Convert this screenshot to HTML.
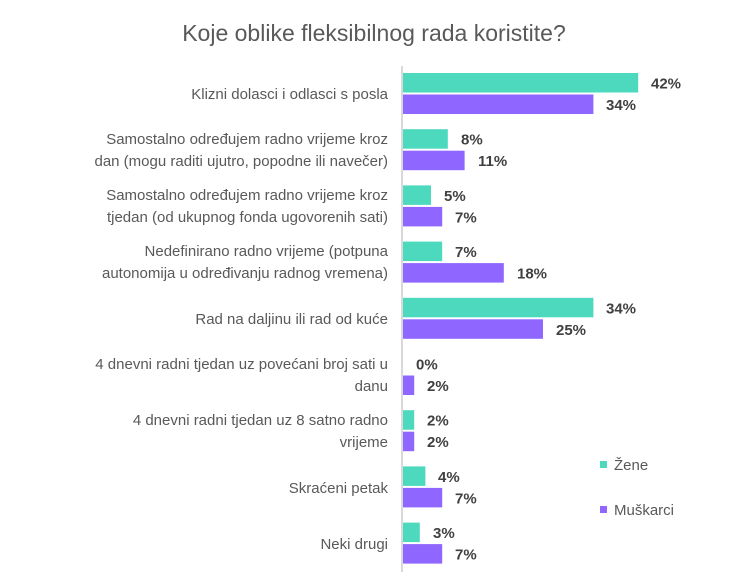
<!DOCTYPE html>
<html><head><meta charset="utf-8"><style>
body{margin:0;background:#fff;}
svg text{font-family:"Liberation Sans",sans-serif;}
</style></head><body>
<svg width="749" height="579" xmlns="http://www.w3.org/2000/svg">
<rect width="749" height="579" fill="#fff"/>
<text x="374" y="41" text-anchor="middle" font-size="23" fill="#595959">Koje oblike fleksibilnog rada koristite?</text>
<line x1="402" y1="66" x2="402" y2="572" stroke="#d9d9d9" stroke-width="2"/>
<g font-size="15" fill="#595959" text-anchor="end">
<text x="388" y="99">Klizni dolasci i odlasci s posla</text>
<text x="388" y="144">Samostalno određujem radno vrijeme kroz</text>
<text x="388" y="166">dan (mogu raditi ujutro, popodne ili navečer)</text>
<text x="388" y="200">Samostalno određujem radno vrijeme kroz</text>
<text x="388" y="222">tjedan (od ukupnog fonda ugovorenih sati)</text>
<text x="388" y="256">Nedefinirano radno vrijeme (potpuna</text>
<text x="388" y="278">autonomija u određivanju radnog vremena)</text>
<text x="388" y="324">Rad na daljinu ili rad od kuće</text>
<text x="388" y="369">4 dnevni radni tjedan uz povećani broj sati u</text>
<text x="388" y="391">danu</text>
<text x="388" y="425">4 dnevni radni tjedan uz 8 satno radno</text>
<text x="388" y="447">vrijeme</text>
<text x="388" y="493">Skraćeni petak</text>
<text x="388" y="549">Neki drugi</text>
</g>
<g fill="#4dd9be">
<rect x="403" y="73" width="235.2" height="19.5"/>
<rect x="403" y="129.2" width="44.8" height="19.5"/>
<rect x="403" y="185.4" width="28" height="19.5"/>
<rect x="403" y="241.6" width="39.2" height="19.5"/>
<rect x="403" y="297.8" width="190.4" height="19.5"/>
<rect x="403" y="410.2" width="11.2" height="19.5"/>
<rect x="403" y="466.4" width="22.4" height="19.5"/>
<rect x="403" y="522.6" width="16.8" height="19.5"/>
</g>
<g fill="#8f66ff">
<rect x="403" y="94.5" width="190.4" height="19.5"/>
<rect x="403" y="150.7" width="61.6" height="19.5"/>
<rect x="403" y="206.9" width="39.2" height="19.5"/>
<rect x="403" y="263.1" width="100.8" height="19.5"/>
<rect x="403" y="319.3" width="140" height="19.5"/>
<rect x="403" y="375.5" width="11.2" height="19.5"/>
<rect x="403" y="431.7" width="11.2" height="19.5"/>
<rect x="403" y="487.9" width="39.2" height="19.5"/>
<rect x="403" y="544.1" width="39.2" height="19.5"/>
</g>
<g font-size="15" font-weight="bold" fill="#404040">
<text x="651" y="88.5">42%</text>
<text x="606" y="110">34%</text>
<text x="461" y="144.7">8%</text>
<text x="478" y="166.2">11%</text>
<text x="444" y="200.9">5%</text>
<text x="455" y="222.4">7%</text>
<text x="455" y="257.1">7%</text>
<text x="517" y="278.6">18%</text>
<text x="606" y="313.3">34%</text>
<text x="556" y="334.8">25%</text>
<text x="416" y="369.5">0%</text>
<text x="427" y="391">2%</text>
<text x="427" y="425.7">2%</text>
<text x="427" y="447.2">2%</text>
<text x="438" y="481.9">4%</text>
<text x="455" y="503.4">7%</text>
<text x="433" y="538.1">3%</text>
<text x="455" y="559.6">7%</text>
</g>
<rect x="600" y="461" width="7" height="7" fill="#4dd9be"/>
<text x="614" y="470" font-size="15" fill="#595959">Žene</text>
<rect x="600" y="506" width="7" height="7" fill="#8f66ff"/>
<text x="614" y="515" font-size="15" fill="#595959">Muškarci</text>
</svg>
</body></html>
